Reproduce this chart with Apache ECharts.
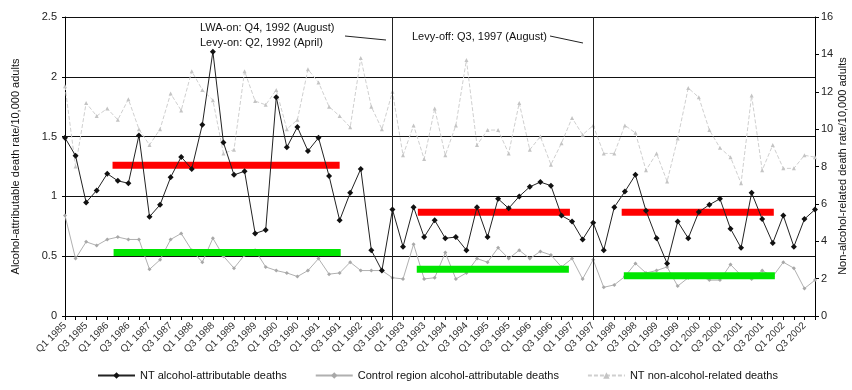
<!DOCTYPE html>
<html><head><meta charset="utf-8">
<script src="https://cdn.jsdelivr.net/npm/echarts@6/dist/echarts.min.js"></script>
<style>html,body{margin:0;padding:0;background:#fff}#c{width:852px;height:390px}</style>
</head><body><div id="c"></div>
<script>
// Quarters Q1 1985 .. Q4 2002
const categories = [];
for (let y = 1985; y <= 2002; y++) for (let q = 1; q <= 4; q++) categories.push('Q' + q + ' ' + y);

const ntAlcohol = [1.49,1.34,0.95,1.05,1.19,1.13,1.11,1.51,0.83,0.93,1.16,1.33,1.23,1.60,2.21,1.45,1.18,1.21,0.69,0.72,
  1.83,1.41,1.58,1.38,1.49,1.17,0.80,1.03,1.23,0.55,0.38,0.89,0.58,0.91,0.66,0.80,0.65,0.66,0.55,0.91,
  0.66,0.98,0.90,1.00,1.08,1.12,1.09,0.84,0.79,0.64,0.78,0.55,0.91,1.04,1.18,0.88,0.65,0.44,0.79,0.65,
  0.87,0.93,0.98,0.73,0.57,1.03,0.81,0.61,0.84,0.58,0.81,0.89];
const controlAlcohol = [0.84,0.48,0.62,0.59,0.64,0.66,0.64,0.64,0.39,0.47,0.64,0.69,0.55,0.45,0.65,0.50,0.40,0.51,0.55,0.41,
  0.38,0.36,0.33,0.38,0.48,0.35,0.36,0.45,0.38,0.38,0.38,0.32,0.31,0.60,0.31,0.32,0.53,0.31,0.36,0.48,
  0.45,0.57,0.48,0.55,0.48,0.54,0.51,0.41,0.48,0.31,0.47,0.24,0.26,0.33,0.44,0.36,0.38,0.41,0.25,0.32,
  0.34,0.30,0.30,0.43,0.34,0.31,0.38,0.33,0.45,0.40,0.23,0.30];
const ntNonAlcohol = [12.3,8.0,11.4,10.7,11.1,10.5,11.6,10.0,9.15,10.0,11.9,11.0,13.1,12.1,11.55,8.7,8.9,13.1,11.5,11.3,
  12.1,10.0,10.5,13.2,12.5,11.2,10.7,10.1,13.8,11.2,10.0,12.0,8.6,10.2,8.4,11.1,8.6,10.2,13.7,9.15,
  9.95,9.95,8.7,11.4,8.9,9.6,8.1,9.25,10.6,9.7,10.2,8.7,8.7,10.2,9.8,7.8,8.7,7.2,9.5,12.2,
  11.7,9.95,9.0,8.5,7.1,11.8,7.8,9.15,7.9,7.9,8.6,8.5];

// period means (start index, end index, value)
const redMeans = [[4.5, 26.0, 1.26], [33.4, 47.8, 0.867], [52.7, 67.1, 0.867]];
const greenMeans = [[4.6, 26.1, 0.53], [33.3, 47.7, 0.39], [52.9, 67.2, 0.337]];
const eventLines = ['Q4 1992', 'Q3 1997'];

const FONT = 'Liberation Sans, Arial, sans-serif';
const chart = echarts.init(document.getElementById('c'));

const meanSeries = [];
redMeans.forEach(m => meanSeries.push({type:'line', xAxisIndex:1, yAxisIndex:0, silent:true, symbol:'none',
  lineStyle:{color:'#ff0000', width:7}, data:[[m[0], m[2]], [m[1], m[2]]], z:5}));
greenMeans.forEach(m => meanSeries.push({type:'line', xAxisIndex:1, yAxisIndex:0, silent:true, symbol:'none',
  lineStyle:{color:'#00e600', width:7}, data:[[m[0], m[2]], [m[1], m[2]]], z:5}));

chart.setOption({
  animation: false,
  textStyle: {fontFamily: FONT},
  grid: {left: 65, right: 37, top: 17, bottom: 74, outerBoundsMode: 'none', containLabel: false},
  legend: {
    bottom: 4, left: 92, itemWidth: 37, itemHeight: 8, itemGap: 28,
    textStyle: {fontSize: 11, color: '#111', fontFamily: FONT},
    data: ['NT alcohol-attributable deaths', 'Control region alcohol-attributable deaths', 'NT non-alcohol-related deaths']
  },
  xAxis: [{
    type: 'category', data: categories, boundaryGap: false,
    axisLine: {lineStyle: {color: '#000'}},
    axisTick: {show: true, interval: 0, length: 4, lineStyle: {color: '#000'}},
    axisLabel: {interval: 1, rotate: 45, fontSize: 10, color: '#333', margin: 8},
    splitLine: {show: false}
  }, {
    type: 'value', min: 0, max: 71, show: false
  }],
  yAxis: [{
    type: 'value', min: 0, max: 2.5, interval: 0.5, position: 'left',
    name: 'Alcohol-attributable death rate/10,000 adults', nameLocation: 'middle', nameGap: 44, nameRotate: 90,
    nameTextStyle: {fontSize: 11, color: '#111'},
    axisLine: {show: true, lineStyle: {color: '#000'}},
    axisTick: {show: true, length: 3, lineStyle: {color: '#000'}},
    axisLabel: {fontSize: 11, color: '#222', margin: 8},
    splitLine: {show: true, lineStyle: {color: '#111', width: 1}}
  }, {
    type: 'value', min: 0, max: 16, interval: 2, position: 'right',
    axisLine: {show: true, lineStyle: {color: '#000'}},
    axisTick: {show: true, length: 4, lineStyle: {color: '#000'}},
    axisLabel: {fontSize: 11, color: '#222', margin: 6},
    splitLine: {show: false}
  }],
  series: [{
    name: 'NT non-alcohol-related deaths', type: 'line', yAxisIndex: 1, data: ntNonAlcohol,
    symbol: 'triangle', symbolSize: 4, z: 2,
    itemStyle: {color: '#c4c4c4'}, lineStyle: {color: '#cfcfcf', width: 1, type: [4, 2]}
  }, {
    name: 'Control region alcohol-attributable deaths', type: 'line', yAxisIndex: 0, data: controlAlcohol,
    symbol: 'diamond', symbolSize: 4, z: 3,
    itemStyle: {color: '#a8a8a8'}, lineStyle: {color: '#b0b0b0', width: 1}
  }, {
    name: 'NT alcohol-attributable deaths', type: 'line', yAxisIndex: 0, data: ntAlcohol,
    symbol: 'diamond', symbolSize: 6, z: 6,
    itemStyle: {color: '#111'}, lineStyle: {color: '#222', width: 1},
    markLine: {silent: true, symbol: 'none', label: {show: false},
      lineStyle: {color: '#222', width: 1, type: 'solid'},
      data: eventLines.map(c => ({xAxis: c}))}
  }].concat(meanSeries),
  graphic: [
    {type: 'text', x: 843, y: 166, rotation: Math.PI / 2,
      style: {text: 'Non-alcohol-related death rate/10,000 adults', font: '11px ' + FONT, fill: '#111', align: 'center', verticalAlign: 'middle'}},
    {type: 'text', left: 200, top: 22, style: {text: 'LWA-on: Q4, 1992 (August)', font: '11px ' + FONT, fill: '#111'}},
    {type: 'text', left: 200, top: 37, style: {text: 'Levy-on: Q2, 1992 (April)', font: '11px ' + FONT, fill: '#111'}},
    {type: 'text', left: 412, top: 31, style: {text: 'Levy-off: Q3, 1997 (August)', font: '11px ' + FONT, fill: '#111'}},
    {type: 'line', shape: {x1: 345, y1: 36, x2: 386, y2: 40}, style: {stroke: '#222', lineWidth: 1}},
    {type: 'line', shape: {x1: 550, y1: 36, x2: 583, y2: 43}, style: {stroke: '#222', lineWidth: 1}}
  ]
});
</script></body></html>
